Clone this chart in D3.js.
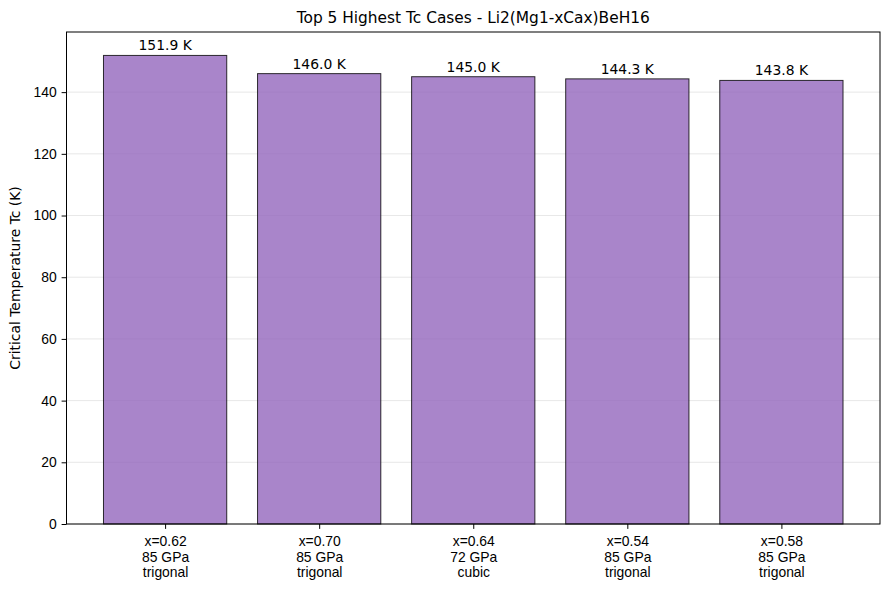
<!DOCTYPE html>
<html lang="en">
<head>
    <meta charset="UTF-8">
    <title>Top 5 Highest Tc Cases</title>
    <script src="https://d3js.org/d3.v7.min.js"></script>
    <style>
        body { margin: 0; background: #fff; }
        svg { font-family: "DejaVu Sans", sans-serif; }
        .grid line { stroke: #b0b0b0; stroke-opacity: 0.3; }
        .axis text { font-size: 13.9px; fill: #000; }
    </style>
</head>
<body>
    <svg width="889" height="590"></svg>
    <script>
        const compositions = ["x=0.62", "x=0.70", "x=0.64", "x=0.54", "x=0.58"];
        const pressures = ["85 GPa", "85 GPa", "72 GPa", "85 GPa", "85 GPa"];
        const structures = ["trigonal", "trigonal", "cubic", "trigonal", "trigonal"];
        const tcValues = [151.9, 146.0, 145.0, 144.3, 143.8];
        const yTicks = [0, 20, 40, 60, 80, 100, 120, 140];

        const svg = d3.select("svg");
        const margin = { left: 66.5, right: 880, top: 32, bottom: 524 };

        // matplotlib-like x limits: bars of width 0.8, 5% margin
        const x = d3.scaleLinear()
            .domain([-0.64, tcValues.length - 1 + 0.64])
            .range([margin.left, margin.right]);
        const y = d3.scaleLinear()
            .domain([0, d3.max(tcValues) * 1.05])
            .range([margin.bottom, margin.top]);

        // grid
        svg.append("g").attr("class", "grid")
            .selectAll("line")
            .data(yTicks)
            .enter().append("line")
            .attr("x1", margin.left).attr("x2", margin.right)
            .attr("y1", d => y(d)).attr("y2", d => y(d));

        // bars
        const bw = 0.8;
        svg.append("g")
            .selectAll("rect")
            .data(tcValues)
            .enter().append("rect")
            .attr("x", (d, i) => x(i - bw / 2))
            .attr("width", x(bw) - x(0))
            .attr("y", d => y(d))
            .attr("height", d => y(0) - y(d))
            .attr("fill", "#9467bd").attr("fill-opacity", 0.8)
            .attr("stroke", "#000").attr("stroke-opacity", 0.8)
            .attr("stroke-width", 1);

        // value labels
        svg.append("g")
            .selectAll("text")
            .data(tcValues)
            .enter().append("text")
            .attr("x", (d, i) => x(i))
            .attr("y", d => y(d) - 5)
            .attr("text-anchor", "middle")
            .attr("font-size", 13.9)
            .text(d => d.toFixed(1) + " K");

        // frame
        svg.append("rect")
            .attr("x", margin.left).attr("y", margin.top)
            .attr("width", margin.right - margin.left)
            .attr("height", margin.bottom - margin.top)
            .attr("fill", "none").attr("stroke", "#000").attr("stroke-width", 1);

        // y axis
        const yAxis = svg.append("g").attr("class", "axis")
            .attr("transform", `translate(${margin.left},0)`)
            .call(d3.axisLeft(y).tickValues(yTicks).tickSize(4.9).tickPadding(4.9));
        yAxis.select(".domain").remove();
        yAxis.selectAll("line").attr("stroke", "#000");

        // x axis
        const xAxis = svg.append("g").attr("class", "axis")
            .attr("transform", `translate(0,${margin.bottom})`)
            .call(d3.axisBottom(x).tickValues(d3.range(tcValues.length)).tickSize(4.9).tickFormat(""));
        xAxis.select(".domain").remove();
        xAxis.selectAll("line").attr("stroke", "#000");
        xAxis.selectAll(".tick").each(function(d) {
            const t = d3.select(this).append("text")
                .attr("fill", "#000")
                .attr("text-anchor", "middle")
                .attr("y", 22);
            [compositions[d], pressures[d], structures[d]].forEach((s, k) => {
                t.append("tspan").attr("x", 0).attr("dy", k === 0 ? 0 : 15.5).text(s);
            });
        });

        // title
        svg.append("text")
            .attr("x", (margin.left + margin.right) / 2)
            .attr("y", 23)
            .attr("text-anchor", "middle")
            .attr("font-size", 15.4)
            .text("Top 5 Highest Tc Cases - Li2(Mg1-xCax)BeH16");

        // y label
        svg.append("text")
            .attr("transform", `translate(20,${(margin.top + margin.bottom) / 2}) rotate(-90)`)
            .attr("text-anchor", "middle")
            .attr("font-size", 13.9)
            .text("Critical Temperature Tc (K)");
    </script>
</body>
</html>
